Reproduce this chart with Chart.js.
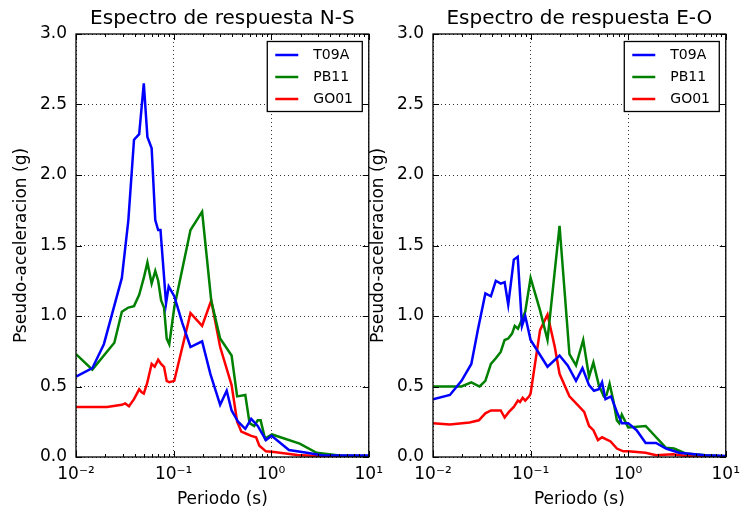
<!DOCTYPE html>
<html>
<head>
<meta charset="utf-8">
<script src="https://cdn.jsdelivr.net/npm/chart.js@4/dist/chart.umd.min.js"></script>
<style>
html,body{margin:0;padding:0;background:#fff;overflow:hidden;width:747px;height:510px;}
.box{position:absolute;top:0;width:390px;height:510px;}
canvas{display:block;}
</style>
</head>
<body>
<div class="box" style="left:0px"><canvas id="c1" width="390" height="510"></canvas></div>
<div class="box" style="left:357px"><canvas id="c2" width="390" height="510"></canvas></div>
<script>
// ---------- data ----------
const seriesNames = ['T09A', 'PB11', 'GO01'];
const seriesColors = ['#0000ff', '#008000', '#ff0000'];
const chartTitles = ['Espectro de respuesta N-S', 'Espectro de respuesta E-O'];
const xAxisLabel = 'Periodo (s)';
const yAxisLabel = 'Pseudo-aceleracion (g)';
const xDecades = [0.01, 0.1, 1, 10];
const xTickLabels = ['10\u207B\u00B2', '10\u207B\u00B9', '10\u2070', '10\u00B9'];
const yTicks = [0, 0.5, 1.0, 1.5, 2.0, 2.5, 3.0];

// N-S
const nsT09A_T = [0.01,0.0147,0.0193,0.0295,0.0344,0.0393,0.0444,0.0495,0.0539,0.0596,0.0649,0.0695,0.0734,0.0837,0.0891,0.1016,0.123,0.149,0.196,0.238,0.300,0.350,0.393,0.458,0.543,0.624,0.728,0.883,1.01,1.52,2.32,3.42,10];
const nsT09A_A = [0.57,0.63,0.80,1.27,1.68,2.25,2.29,2.65,2.27,2.19,1.68,1.61,1.61,1.09,1.21,1.14,0.95,0.78,0.82,0.59,0.37,0.47,0.33,0.25,0.20,0.27,0.22,0.12,0.15,0.05,0.03,0.01,0.01];
const nsPB11_T = [0.01,0.0147,0.0193,0.0247,0.0295,0.0344,0.0393,0.0444,0.0495,0.0539,0.0596,0.0649,0.0695,0.0745,0.0798,0.0850,0.0903,0.1016,0.149,0.196,0.243,0.300,0.393,0.448,0.543,0.601,0.67,0.728,0.78,0.865,1.02,1.96,2.92,5.0,10];
const nsPB11_A = [0.73,0.62,0.72,0.81,1.03,1.06,1.07,1.15,1.27,1.38,1.23,1.32,1.25,1.11,1.06,0.84,0.80,1.06,1.61,1.74,1.11,0.84,0.72,0.43,0.44,0.24,0.22,0.26,0.26,0.13,0.16,0.095,0.03,0.01,0.005];
const nsGO01_T = [0.01,0.0208,0.0295,0.0319,0.0349,0.0393,0.0444,0.0468,0.0495,0.0534,0.0596,0.064,0.0695,0.0744,0.0798,0.0850,0.0903,0.1016,0.149,0.196,0.243,0.300,0.393,0.448,0.494,0.556,0.624,0.70,0.757,0.883,1.07,1.85,3.4,10];
const nsGO01_A = [0.355,0.355,0.37,0.38,0.36,0.41,0.48,0.46,0.45,0.52,0.66,0.64,0.69,0.66,0.64,0.54,0.53,0.54,1.02,0.93,1.11,0.78,0.51,0.25,0.18,0.165,0.15,0.14,0.08,0.04,0.035,0.015,0.005,0.005];

// E-O
const eoT09A_T = [0.01,0.0149,0.0196,0.0247,0.0288,0.0344,0.0392,0.0440,0.0494,0.0542,0.059,0.0673,0.0738,0.0816,0.0881,0.1,0.149,0.198,0.240,0.292,0.340,0.397,0.446,0.50,0.54,0.585,0.667,0.766,0.86,1.0,1.22,1.51,1.93,2.44,3.32,6.15,10];
const eoT09A_A = [0.41,0.44,0.54,0.66,0.90,1.16,1.14,1.25,1.23,1.24,1.08,1.40,1.42,0.93,1.0,0.83,0.64,0.72,0.65,0.54,0.63,0.51,0.47,0.48,0.53,0.41,0.43,0.32,0.24,0.24,0.19,0.10,0.10,0.06,0.03,0.012,0.007];
const eoPB11_T = [0.01,0.0196,0.0247,0.030,0.0344,0.0392,0.044,0.0494,0.0542,0.059,0.0646,0.0688,0.0742,0.0816,0.0881,0.1,0.125,0.149,0.198,0.250,0.292,0.346,0.397,0.44,0.50,0.562,0.60,0.645,0.70,0.766,0.81,0.86,1.0,1.51,2.44,2.95,3.87,6.15,10];
const eoPB11_A = [0.50,0.50,0.53,0.50,0.54,0.66,0.70,0.745,0.83,0.84,0.875,0.93,0.91,0.975,1.03,1.27,1.04,0.83,1.64,0.73,0.65,0.83,0.57,0.67,0.51,0.43,0.44,0.52,0.41,0.26,0.24,0.30,0.21,0.22,0.065,0.06,0.025,0.012,0.005];
const eoGO01_T = [0.01,0.0149,0.0237,0.0295,0.0344,0.0392,0.0494,0.0542,0.060,0.0673,0.0742,0.078,0.083,0.0881,0.0967,0.1,0.125,0.149,0.177,0.198,0.25,0.303,0.354,0.397,0.44,0.49,0.54,0.66,0.766,0.89,1.0,1.51,1.93,2.87,4.2,10];
const eoGO01_A = [0.24,0.23,0.245,0.26,0.31,0.33,0.33,0.28,0.32,0.355,0.40,0.39,0.42,0.40,0.43,0.45,0.90,1.01,0.78,0.59,0.43,0.37,0.32,0.22,0.19,0.12,0.14,0.11,0.06,0.04,0.04,0.03,0.012,0.02,0.005,0.005];

// ---------- helpers ----------
const FONT = 'DejaVu Sans';
const isDecade = v => Math.abs(Math.log10(v) - Math.round(Math.log10(v))) < 1e-9;
const xTickValues = [];
for (let d = 0; d < xDecades.length; d++) {
  xTickValues.push(xDecades[d]);
  if (d < xDecades.length - 1) for (let m = 2; m <= 9; m++) xTickValues.push(+(m * xDecades[d]).toPrecision(6));
}
const pts = (T, A) => T.map((t, i) => ({x: t, y: A[i]}));

const framePlugin = {
  id: 'frame',
  afterDraw(chart) {
    const {ctx, chartArea: a, scales: {x, y}} = chart;
    ctx.save();
    ctx.strokeStyle = '#000';
    ctx.lineWidth = 1;
    const ln = (x1, y1, x2, y2) => { ctx.beginPath(); ctx.moveTo(x1, y1); ctx.lineTo(x2, y2); ctx.stroke(); };
    x.ticks.forEach(t => {
      const px = Math.round(x.getPixelForValue(t.value)) + 0.5;
      const len = isDecade(t.value) ? 6 : 3;
      ln(px, a.bottom, px, a.bottom - len);
      ln(px, a.top, px, a.top + len);
    });
    y.ticks.forEach(t => {
      const py = Math.round(y.getPixelForValue(t.value)) + 0.5;
      ln(a.left, py, a.left + 6, py);
      ln(a.right, py, a.right - 6, py);
    });
    ctx.lineWidth = 1.3;
    ctx.strokeRect(a.left, a.top, a.right - a.left, a.bottom - a.top);

    // legend box (top-right inside plot)
    const w = 95, h = 70;
    const lx = a.right - 6.5 - w, ly = a.top + 7.5;
    ctx.fillStyle = '#fff';
    ctx.fillRect(lx, ly, w, h);
    ctx.lineWidth = 1.3;
    ctx.strokeStyle = '#000';
    ctx.strokeRect(lx, ly, w, h);
    ctx.font = '14px "' + FONT + '"';
    ctx.textBaseline = 'middle';
    ctx.textAlign = 'left';
    chart.data.datasets.forEach((ds, i) => {
      const cy = ly + 13.5 + i * 22;
      ctx.strokeStyle = ds.borderColor;
      ctx.lineWidth = 2.5;
      ln(lx + 8, cy, lx + 31, cy);
      ctx.fillStyle = '#000';
      ctx.fillText(ds.label, lx + 46, cy);
    });
    ctx.restore();
  }
};

function makeChart(id, title, sets, rightPad) {
  return new Chart(document.getElementById(id), {
    type: 'line',
    data: {
      datasets: sets.map((s, i) => ({
        label: seriesNames[i],
        data: pts(s[0], s[1]),
        borderColor: seriesColors[i],
        backgroundColor: seriesColors[i],
        borderWidth: 2.5,
        pointRadius: 0,
        tension: 0,
        fill: false
      }))
    },
    options: {
      responsive: false,
      animation: false,
      devicePixelRatio: 1,
      layout: {padding: {left: 0, right: rightPad, top: 0, bottom: 0}},
      plugins: {
        legend: {display: false},
        tooltip: {enabled: false},
        title: {
          display: true,
          text: title,
          fullSize: false,
          color: '#000',
          font: {family: FONT, size: 20, weight: 'normal', lineHeight: 1.2},
          padding: {top: 7, bottom: 3}
        }
      },
      scales: {
        x: {
          type: 'logarithmic',
          min: 0.01,
          max: 10,
          afterBuildTicks: s => { s.ticks = xTickValues.map(v => ({value: v, major: isDecade(v)})); },
          afterFit: s => { s.height = 53; },
          ticks: {
            autoSkip: false,
            maxRotation: 0,
            padding: 7,
            color: '#000',
            font: {family: FONT, size: 17},
            callback: (v) => { const k = xDecades.findIndex(d => Math.abs(d - v) < 1e-9); return k >= 0 ? xTickLabels[k] : ''; }
          },
          grid: {
            drawTicks: false,
            lineWidth: 0.8,
            color: ctx => (ctx.tick && isDecade(ctx.tick.value)) ? '#000' : 'rgba(0,0,0,0)'
          },
          border: {display: false, dash: [1, 3]},
          title: {
            display: true,
            text: xAxisLabel,
            color: '#000',
            font: {family: FONT, size: 17, lineHeight: 1.2},
            padding: {top: 0, bottom: 0}
          }
        },
        y: {
          type: 'linear',
          min: 0,
          max: 3,
          afterBuildTicks: s => { s.ticks = yTicks.map(v => ({value: v})); },
          afterFit: s => { s.width = 76; },
          ticks: {
            padding: 9,
            color: '#000',
            font: {family: FONT, size: 17},
            callback: v => Number(v).toFixed(1)
          },
          grid: {drawTicks: false, lineWidth: 0.8, color: '#000'},
          border: {display: false, dash: [1, 3]},
          title: {
            display: true,
            text: yAxisLabel,
            color: '#000',
            font: {family: FONT, size: 17, lineHeight: 1.2},
            padding: {top: 11.8, bottom: 0}
          }
        }
      }
    },
    plugins: [framePlugin]
  });
}

makeChart('c1', chartTitles[0], [[nsT09A_T, nsT09A_A], [nsPB11_T, nsPB11_A], [nsGO01_T, nsGO01_A]], 17);
makeChart('c2', chartTitles[1], [[eoT09A_T, eoT09A_A], [eoPB11_T, eoPB11_A], [eoGO01_T, eoGO01_A]], 16);
</script>
</body>
</html>
